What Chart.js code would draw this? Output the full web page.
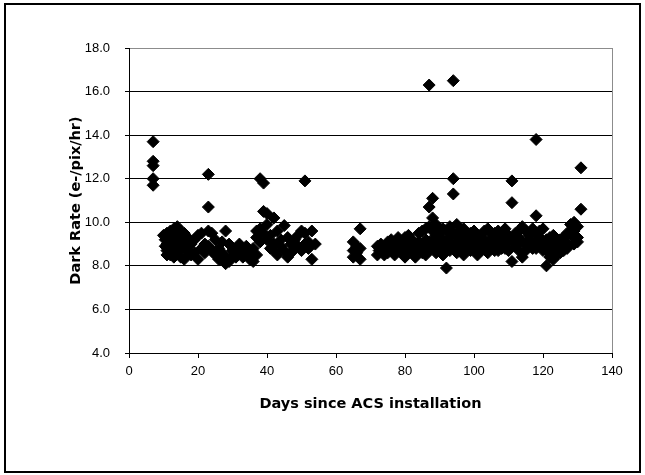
<!DOCTYPE html>
<html>
<head>
<meta charset="utf-8">
<script src="https://cdn.jsdelivr.net/npm/chart.js@4"></script>
<style>
  body { margin: 0; background: #fff; }
  #wrap { width: 645px; height: 475px; }
</style>
</head>
<body>
<div id="wrap"><canvas id="myChart" width="645" height="475"></canvas></div>
<script>
const days = [
    7, 7, 7, 7, 7,
    10.5, 10.5, 11, 11, 11,
    12, 12, 12, 12, 13, 13, 13,
    14, 14, 14, 15, 15, 15, 16, 16, 16,
    17, 17, 18, 18, 19, 19, 20, 20, 21, 21, 22, 22,
    23, 23, 23, 23, 24, 24, 25, 25, 26, 26, 27, 27,
    28, 28, 28, 29, 29, 30, 30, 31, 31, 32, 32, 33, 33,
    34, 34, 35, 35, 36, 36, 37, 37, 37,
    38, 38, 38, 39, 39, 39, 40, 40, 40, 41, 41,
    42, 42, 42, 43, 43, 44, 44, 45, 45, 46, 46, 47, 47,
    48, 48, 49, 49, 50, 50, 51, 51, 51, 52, 52, 53, 53, 54,
    65, 65, 65, 66, 66, 67, 67, 67,
    72, 72, 73, 73, 74, 75, 75, 76, 76, 77, 77, 78, 78, 79, 79,
    80, 80, 80, 81, 81, 82, 82, 83, 83, 84, 84, 85, 85, 85, 86, 86, 86,
    87, 87, 87, 87, 87, 88, 88, 88, 88, 89, 89, 89, 90, 90, 90,
    91, 91, 91, 92, 92, 92, 93, 93, 93, 94, 94, 94, 94, 94,
    95, 95, 95, 96, 96, 96, 97, 97, 97, 98, 98, 99, 99, 100, 100,
    101, 101, 102, 102, 103, 103, 104, 104, 104, 105, 105, 106, 106,
    107, 107, 108, 108, 109, 109, 110, 110, 111, 111, 111, 111,
    112, 112, 113, 113, 114, 114, 115, 115, 116, 116, 117, 117,
    118, 118, 118, 118, 119, 119, 120, 120, 121, 121, 122, 122,
    123, 123, 123, 124, 124, 125, 125, 126, 126, 127, 127,
    128, 128, 129, 129, 130, 130, 131, 131,
    // second readings on the same days
    10, 11, 12, 13, 13.5, 14, 15, 16, 17,
    72.5, 74, 76, 78, 80, 82, 84, 86, 88, 89, 90, 91, 92, 93,
    95, 96, 97, 98, 99, 100, 101, 102, 103, 105, 106, 107, 108, 109, 110,
    112, 113, 114, 115, 116, 117, 119, 120, 121, 122, 124, 125, 126, 127, 129, 130
];
const darkRate = [
    13.7, 12.8, 12.6, 12.0, 11.7,
    9.2, 8.9, 9.5, 9.0, 8.7,
    9.3, 8.5, 9.1, 8.8, 9.7, 8.4, 9.0,
    9.8, 9.4, 8.6, 9.6, 8.9, 8.4, 9.5, 9.1, 8.3,
    8.7, 8.9, 8.5, 9.0, 9.2, 8.6, 9.4, 8.3, 9.5, 8.8, 9.0, 8.6,
    12.2, 10.7, 9.6, 8.9, 9.5, 8.7, 9.2, 8.5, 8.8, 8.3, 9.1, 8.6,
    9.6, 8.4, 8.1, 9.0, 8.2, 8.7, 8.5, 8.8, 8.4, 9.0, 8.6, 8.7, 8.4,
    8.9, 8.5, 8.6, 8.3, 8.8, 8.2, 9.6, 9.3, 8.5,
    9.7, 12.0, 9.1, 11.8, 10.5, 9.5, 9.9, 10.4, 9.2, 9.4, 8.8,
    10.2, 9.0, 8.7, 9.6, 8.5, 9.2, 8.9, 9.85, 8.7, 9.3, 8.4, 9.0, 8.6,
    9.2, 8.8, 9.4, 8.9, 9.6, 8.7, 11.9, 9.5, 9.0, 9.1, 8.8, 9.6, 8.3, 9.0,
    9.1, 8.7, 8.4, 8.9, 8.6, 9.7, 8.8, 8.3,
    8.9, 8.5, 9.0, 8.7, 8.8, 9.1, 8.6, 9.2, 8.8, 8.9, 8.5, 9.3, 8.7, 9.0, 8.6,
    9.1, 8.8, 8.4, 9.4, 8.6, 9.2, 8.9, 9.0, 8.4, 9.5, 8.7, 9.6, 9.0, 8.6, 9.7, 9.2, 8.5,
    16.3, 10.7, 9.8, 9.1, 8.7, 11.1, 10.2, 9.6, 8.9, 9.9, 9.4, 8.6, 9.5, 9.0, 8.8,
    9.7, 9.2, 8.5, 7.9, 9.6, 9.0, 9.8, 9.3, 8.7, 16.5, 12.0, 11.3, 9.5, 8.8,
    9.9, 9.1, 8.6, 9.6, 9.0, 8.8, 9.7, 9.2, 8.5, 9.4, 8.9, 9.5, 8.7, 9.3, 8.8,
    9.0, 8.5, 9.4, 8.7, 9.6, 8.9, 9.7, 9.1, 8.6, 9.2, 8.8, 9.5, 8.7,
    9.6, 9.0, 9.3, 8.8, 9.7, 9.1, 9.4, 8.7, 11.9, 10.9, 9.2, 8.2,
    9.5, 8.9, 9.3, 8.7, 9.8, 8.4, 9.6, 9.0, 9.4, 8.9, 9.7, 9.1,
    13.8, 10.3, 9.5, 8.8, 9.3, 8.9, 9.7, 8.7, 9.2, 8.0, 9.0, 8.4,
    9.4, 8.6, 8.3, 9.1, 8.8, 8.9, 8.6, 9.3, 8.7, 9.5, 9.0,
    9.9, 9.4, 10.0, 9.0, 9.8, 9.3, 12.5, 10.6,
    // second readings on the same days
    9.4, 8.5, 9.6, 8.8, 8.6, 9.1, 9.3, 8.8, 9.3,
    8.7, 8.5, 9.0, 9.0, 9.3, 8.6, 9.1, 8.9, 9.2, 9.1, 9.7, 8.9, 8.7, 9.0,
    9.4, 9.3, 8.9, 9.2, 9.1, 9.6, 9.3, 9.1, 9.2, 9.5, 9.1, 8.7, 9.5, 8.8, 9.1,
    9.2, 9.6, 9.1, 8.7, 9.2, 8.8, 9.6, 9.1, 8.7, 9.3, 8.5, 9.2, 9.0, 8.8, 9.6, 9.1
];
const xTicks = [0, 20, 40, 60, 80, 100, 120, 140];
const yTicks = [4, 6, 8, 10, 12, 14, 16, 18];

const points = days.map((d, i) => ({x: d, y: darkRate[i]}));

// outer frame around the whole picture
const frame = {
    id: "frame",
    afterDraw(chart) {
        const ctx = chart.ctx;
        ctx.save();
        ctx.strokeStyle = "#000";
        ctx.lineWidth = 2;
        ctx.strokeRect(5, 4, 635, 468);
        ctx.restore();
    }
};

const tickFont = {family: "'Liberation Sans Narrow', 'Liberation Sans', Arial", size: 13};
const titleFont = {family: "'DejaVu Sans'", size: 14.5, weight: "bold"};

const myChart = new Chart(document.getElementById("myChart"), {
    type: "scatter",
    data: {
        datasets: [{
            label: "Dark Rate",
            data: points,
            pointStyle: "rectRot",
            pointRadius: 6,
            pointHoverRadius: 6,
            backgroundColor: "#000",
            borderColor: "#000",
            borderWidth: 1
        }]
    },
    options: {
        responsive: false,
        animation: false,
        events: [],
        layout: {padding: {left: 20, top: 48, right: 33, bottom: 62}},
        plugins: {
            legend: {display: false},
            tooltip: {enabled: false}
        },
        scales: {
            x: {
                type: "linear",
                min: 0,
                max: 140,
                afterBuildTicks: (scale) => { scale.ticks = xTicks.map(v => ({value: v})); },
                afterFit: (scale) => { scale.height = 60; },
                border: {color: "#000", width: 1},
                grid: {
                    drawOnChartArea: true,
                    color: (c) => c.tick && c.tick.value === 140 ? "#8c8c8c" : "rgba(0,0,0,0)",
                    tickColor: "#000",
                    tickLength: 5
                },
                ticks: {color: "#000", font: tickFont, padding: 6, maxRotation: 0},
                title: {
                    display: true,
                    text: "Days since ACS installation",
                    color: "#000",
                    font: titleFont,
                    padding: {top: 0, bottom: 0}
                }
            },
            y: {
                min: 4,
                max: 18,
                afterBuildTicks: (scale) => { scale.ticks = yTicks.map(v => ({value: v})); },
                afterFit: (scale) => { scale.width = 109; },
                border: {color: "#000", width: 1},
                grid: {
                    color: (c) => c.tick && c.tick.value === 18 ? "#8c8c8c" : "#000",
                    tickColor: "#000",
                    tickLength: 4
                },
                ticks: {
                    color: "#000",
                    font: tickFont,
                    padding: 15,
                    callback: (v) => v.toFixed(1)
                },
                title: {
                    display: true,
                    text: "Dark Rate (e-/pix/hr)",
                    color: "#000",
                    font: titleFont,
                    padding: {top: 48, bottom: 0}
                }
            }
        }
    },
    plugins: [frame]
});
</script>
</body>
</html>
